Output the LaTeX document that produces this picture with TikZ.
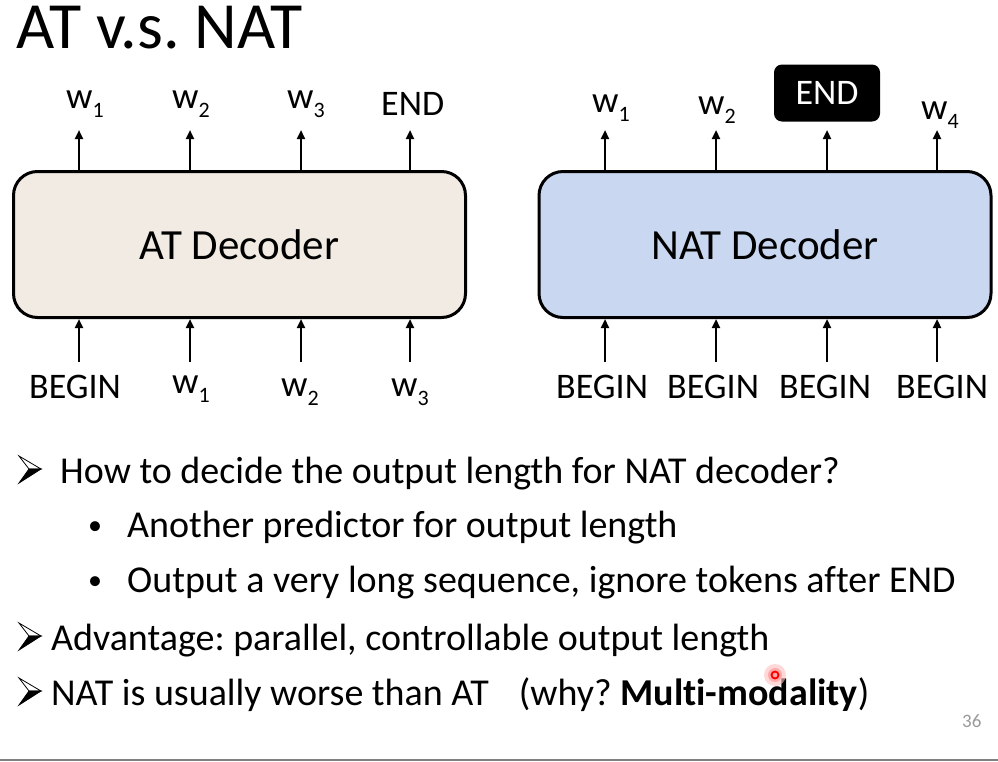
\documentclass[tikz,border=0pt]{standalone}
\usepackage{fontspec}
\setmainfont{Carlito}[Ligatures=NoCommon]
\usetikzlibrary{arrows.meta}
\definecolor{atfill}{HTML}{F2EBE4}
\definecolor{natfill}{HTML}{C9D7F1}
\definecolor{pagegray}{HTML}{9A9A9A}
\definecolor{rulegray}{HTML}{808080}
\newcommand{\wsub}[1]{w\raisebox{-9pt}{\fontsize{22}{22}\selectfont #1}}
\frenchspacing
\begin{document}
\begin{tikzpicture}[x=1pt,y=-1pt,
  lbl/.style={inner sep=0pt, anchor=base west, font=\fontsize{36}{40}\selectfont},
  wl/.style={inner sep=0pt, anchor=base west, font=\fontsize{37}{40}\selectfont},
  dec/.style={draw, line width=3pt, rounded corners=24pt, minimum width=452pt, minimum height=146pt, inner sep=0pt, font=\fontsize{43}{48}\selectfont},
  arr/.style={line width=2.2pt, -{Triangle[length=9pt,width=8pt]}},
  body/.style={inner sep=0pt, anchor=base west, font=\fontsize{38}{44}\selectfont},
  dot/.style={inner sep=0pt, anchor=base west, font=\fontsize{28}{30}\selectfont},
  sarrow/.style={line width=0.8pt, line join=miter}]
\useasboundingbox (0,0) rectangle (998,761);
\fill[white] (0,0) rectangle (998,761);

% title
\node[inner sep=0pt, anchor=base west, text height=43pt, font=\fontsize{66}{70}\selectfont] (title) at (16,48) {AT v.s. NAT};

% decoders
\node[dec, fill=atfill] (at) at (239.5,244.5) {AT Decoder};
\node[dec, fill=natfill] (nat) at (765,244.5) {NAT Decoder};

% AT top labels
\node[wl] (ato1) at (66,108) {\wsub{1}};
\node[wl] (ato2) at (172,108) {\wsub{2}};
\node[wl] (ato3) at (287,108) {\wsub{3}};
\node[lbl] (ato4) at (381,115) {END};
% AT bottom labels
\node[lbl] (ati1) at (29,398) {BEGIN};
\node[wl] (ati2) at (172,393) {\wsub{1}};
\node[wl] (ati3) at (281,396) {\wsub{2}};
\node[wl] (ati4) at (391,396) {\wsub{3}};

% NAT top labels
\node[wl] (nato1) at (592,112) {\wsub{1}};
\node[wl] (nato2) at (698,114) {\wsub{2}};
\node[fill=black, text=white, rounded corners=8pt, minimum width=106pt, minimum height=57pt, inner sep=0pt, font=\fontsize{36}{40}\selectfont] (nato3) at (827,93) {END};
\node[wl] (nato4) at (921,119) {\wsub{4}};
% NAT bottom labels
\node[lbl] (nati1) at (556,398) {BEGIN};
\node[lbl] (nati2) at (667,398) {BEGIN};
\node[lbl] (nati3) at (779,398) {BEGIN};
\node[lbl] (nati4) at (896,398) {BEGIN};

% arrow coordinates
\foreach \i/\x in {1/79,2/190,3/301,4/410}{
  \coordinate (atu\i) at (\x,130);
  \coordinate (atd\i) at (\x,362);
  \draw[arr] (atu\i |- at.north) -- (atu\i);
  \draw[arr] (atd\i) -- (atd\i |- at.south);
}
\foreach \i/\x in {1/605,2/716,3/827,4/937}{
  \coordinate (natu\i) at (\x,130);
  \coordinate (natd\i) at (\x,362);
  \draw[arr] (natu\i |- nat.north) -- (natu\i);
  \draw[arr] (natd\i) -- (natd\i |- nat.south);
}

% bullet arrows (drawn)
\foreach \y/\n in {469/b1,636/b4,691/b5}{
  \coordinate (\n) at (19,\y);
  \filldraw[sarrow, fill=white] (\n) ++(0,-13) -- ++(22,13) -- ++(-12,0) -- cycle;
  \filldraw[sarrow, fill=black] (\n) ++(10,0) -- ++(12,0) -- ++(-22,14) -- cycle;
}
\node[body] (l1) at (60,483) {How to decide the output length for NAT decoder?};
\node[dot] (d2) at (88,534) {\textbullet};
\node[body] (l2) at (127,537) {Another predictor for output length};
\node[dot] (d3) at (88,589) {\textbullet};
\node[body] (l3) at (127,592) {Output a very long sequence, ignore tokens after END};
\node[body] (l4) at (51,650) {Advantage: parallel, controllable output length};
\node[body] (l5) at (51,705) {NAT is usually worse than AT\hspace{30pt}(why? \textbf{Multi-modality})};

% laser pointer
\fill[red!25, opacity=0.6] (775,675) circle (11pt);
\fill[red!45, opacity=0.6] (775,675) circle (7pt);
\draw[red, line width=1.8pt] (775,675) circle (3.5pt);

% page number and bottom rule
\node[inner sep=0pt, anchor=base west, text=pagegray, font=\fontsize{19}{20}\selectfont] (pg) at (962,727) {36};
\draw[rulegray, line width=2pt] (0,760) -- (998,760);
\end{tikzpicture}
\end{document}
